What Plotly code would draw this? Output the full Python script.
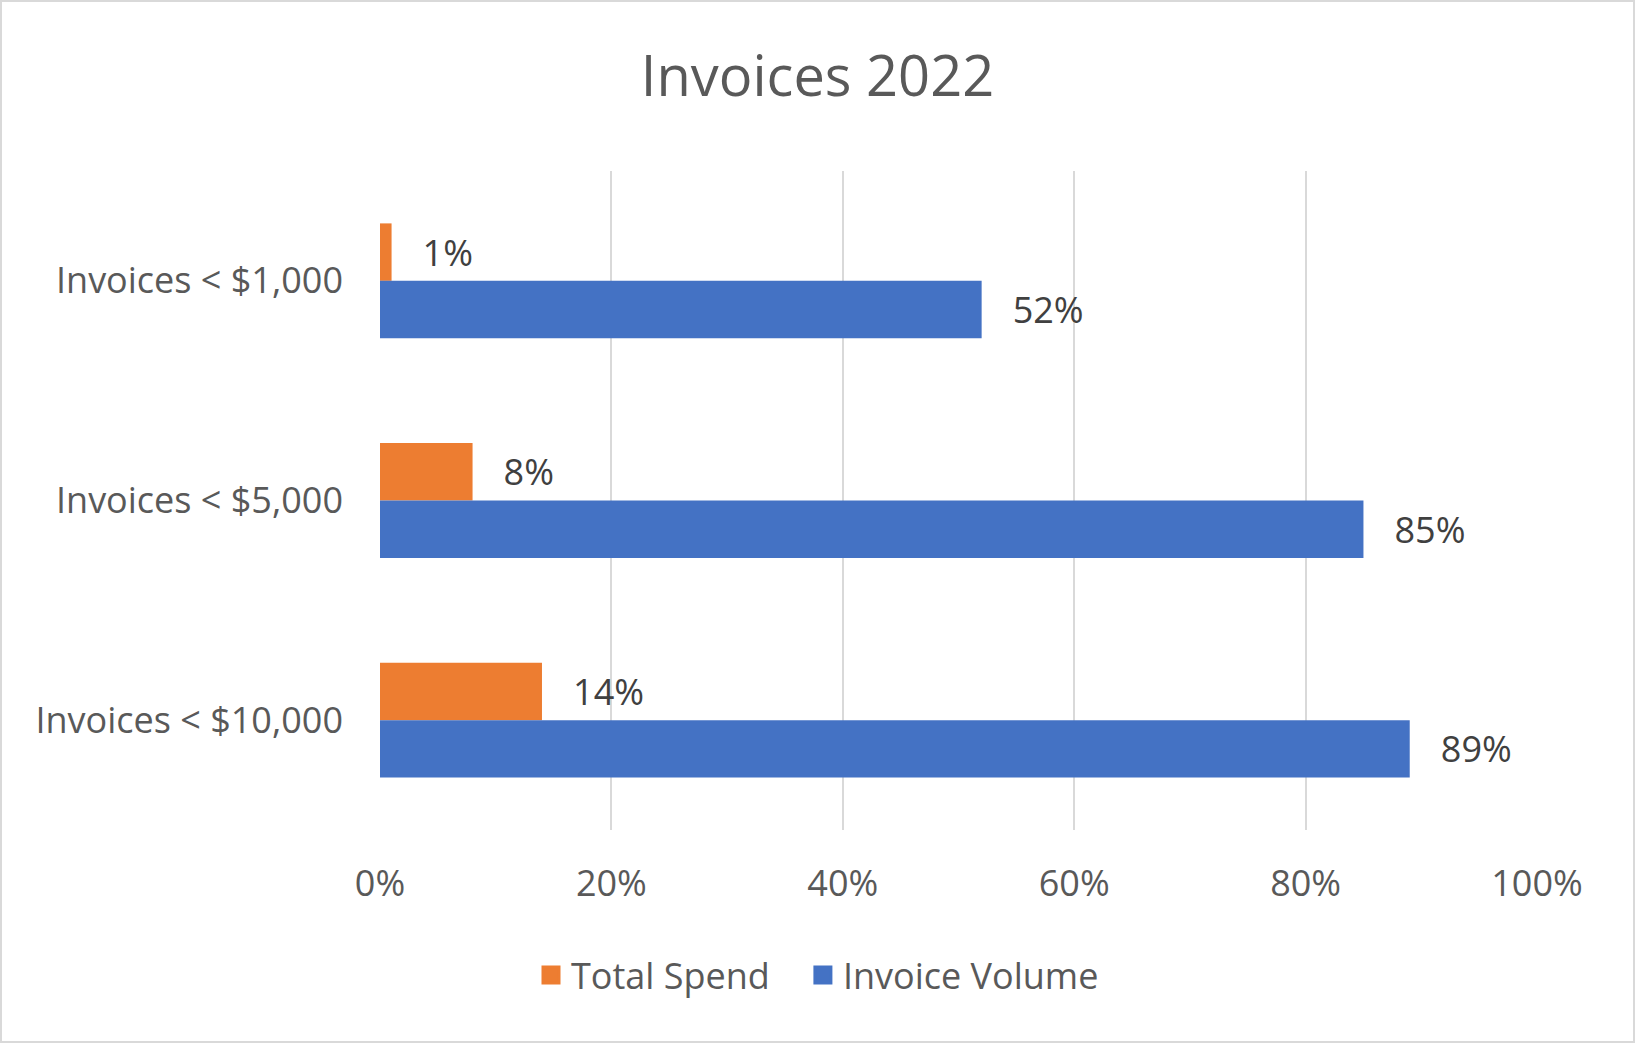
import plotly.graph_objects as go

categories = ["Invoices < $1,000", "Invoices < $5,000", "Invoices < $10,000"]
total_spend = [0.01, 0.08, 0.14]
invoice_volume = [0.52, 0.85, 0.89]
series_names = ["Total Spend", "Invoice Volume"]
series_colors = ["#ED7D31", "#4472C4"]
x_ticks = [0, 0.2, 0.4, 0.6, 0.8, 1.0]
x_tick_labels = ["0%", "20%", "40%", "60%", "80%", "100%"]

W, H = 1635, 1043
ML, MR, MT, MB = 380, 98, 171, 213
FONT = "Open Sans"
pad = "\u00a0\u00a0\u00a0"

fig = go.Figure()
for name, vals, col in zip(series_names, [total_spend, invoice_volume], series_colors):
    fig.add_trace(go.Bar(
        y=categories, x=vals, name=name, orientation="h",
        marker=dict(color=col, line=dict(width=0)),
        text=[pad + f"{v:.0%}" for v in vals], textposition="outside",
        textfont=dict(family=FONT, size=36, color="#404040"),
        constraintext="none", cliponaxis=False, showlegend=False,
    ))
# legend proxies (bigger square swatches)
legend_labels = [series_names[0] + "\u00a0\u00a0\u00a0", series_names[1]]
for name, col in zip(legend_labels, series_colors):
    fig.add_trace(go.Scatter(
        x=[None], y=[None], mode="markers", name=name,
        marker=dict(symbol="square", size=16, color=col, line=dict(color=col, width=3)),
        showlegend=True,
    ))

pw = W - ML - MR
ph = H - MT - MB
fig.add_shape(type="rect", xref="paper", yref="paper",
              x0=-(ML - 1) / pw, x1=1 + (MR - 1) / pw,
              y0=-(MB - 1) / ph, y1=1 + (MT - 1) / ph,
              line=dict(color="#d9d9d9", width=2), fillcolor="rgba(0,0,0,0)", layer="below")

fig.update_layout(
    width=W, height=H,
    margin=dict(l=ML, r=MR, t=MT, b=MB),
    paper_bgcolor="white", plot_bgcolor="white",
    barmode="group", bargap=0.477, bargroupgap=0,
    title=dict(text="Invoices 2022", x=0.5, xref="container", xanchor="center",
               y=1 - 76 / H, yanchor="middle", yref="container",
               font=dict(family=FONT, size=56, color="#595959")),
    font=dict(family=FONT, size=36, color="#595959"),
    showlegend=True,
    legend=dict(orientation="h", xref="container", x=0.5, xanchor="center",
                yref="container", y=1 - 975 / H, yanchor="middle",
                traceorder="normal", itemsizing="trace",
                font=dict(family=FONT, size=36, color="#595959"),
                itemwidth=30),
    xaxis=dict(range=[0, 1.0], tickvals=x_ticks, ticktext=x_tick_labels,
               showgrid=True, gridcolor="#d9d9d9", gridwidth=2,
               zeroline=False, showline=False, ticks="",
               ticklabelstandoff=29,
               tickfont=dict(family=FONT, size=36, color="#595959")),
    yaxis=dict(autorange="reversed", showgrid=False, zeroline=False, showline=False,
               ticks="", ticklabelstandoff=36,
               tickfont=dict(family=FONT, size=36, color="#595959")),
)

fig.write_html("out.html", config={"displayModeBar": False},
               post_script="document.body.style.margin='0';")
